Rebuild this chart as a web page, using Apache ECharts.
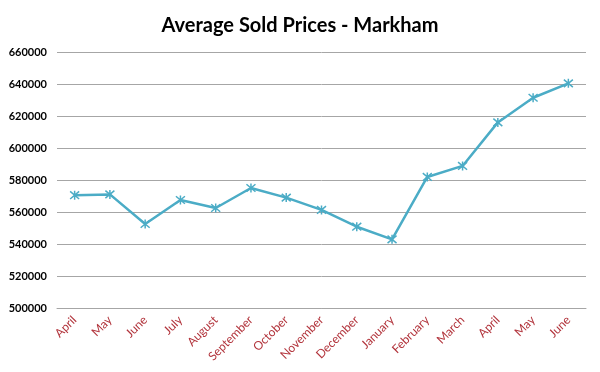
<!DOCTYPE html>
<html>
<head>
<meta charset="utf-8">
<script src="https://cdn.jsdelivr.net/npm/echarts@6/dist/echarts.min.js"></script>
<style>html,body{margin:0;padding:0;background:#fff;}#c{width:600px;height:372px;}</style>
</head>
<body>
<div id="c"></div>
<script>
var categories = ['April','May','June','July','August','September','October','November','December','January','February','March','April','May','June'];
var prices = [570500, 571000, 552500, 567500, 562500, 575000, 569000, 561300, 550800, 542900, 581900, 588800, 616000, 631400, 640400];
var yTicks = { min: 500000, max: 660000, step: 20000 };

var chart = echarts.init(document.getElementById('c'), null, { renderer: 'canvas' });
chart.setOption({
  animation: false,
  backgroundColor: '#ffffff',
  title: {
    text: 'Average Sold Prices - Markham',
    left: 'center',
    top: 11,
    textStyle: { fontFamily: 'Lato', fontWeight: 'bold', fontSize: 20, color: '#000000' }
  },
  grid: { left: 57, right: 14, top: 52, bottom: 64, containLabel: false },
  xAxis: {
    type: 'category',
    data: categories,
    boundaryGap: true,
    axisLine: { show: true, lineStyle: { color: '#a6a6a6', width: 1 } },
    axisTick: { show: false },
    axisLabel: {
      interval: 0,
      rotate: 45,
      margin: 10,
      color: '#b2343c',
      fontFamily: 'Lato',
      fontSize: 12
    }
  },
  yAxis: {
    type: 'value',
    min: yTicks.min,
    max: yTicks.max,
    interval: yTicks.step,
    axisLine: { show: false },
    axisTick: { show: false },
    splitLine: { show: true, lineStyle: { color: '#a6a6a6', width: 1 } },
    axisLabel: {
      margin: 10,
      color: '#000000',
      fontFamily: 'Lato',
      fontWeight: 'bold',
      fontSize: 11,
      formatter: function (v) { return String(v); }
    }
  },
  series: [{
    type: 'line',
    data: prices,
    symbol: 'path://M5,0 L5,10 M0.8,0.8 L9.2,9.2 M9.2,0.8 L0.8,9.2',
    symbolSize: 9,
    showAllSymbol: true,
    lineStyle: { color: '#4bacc6', width: 2.5 },
    itemStyle: { color: 'rgba(0,0,0,0)', borderColor: '#4bacc6', borderWidth: 1.5 }
  }]
});
</script>
</body>
</html>
